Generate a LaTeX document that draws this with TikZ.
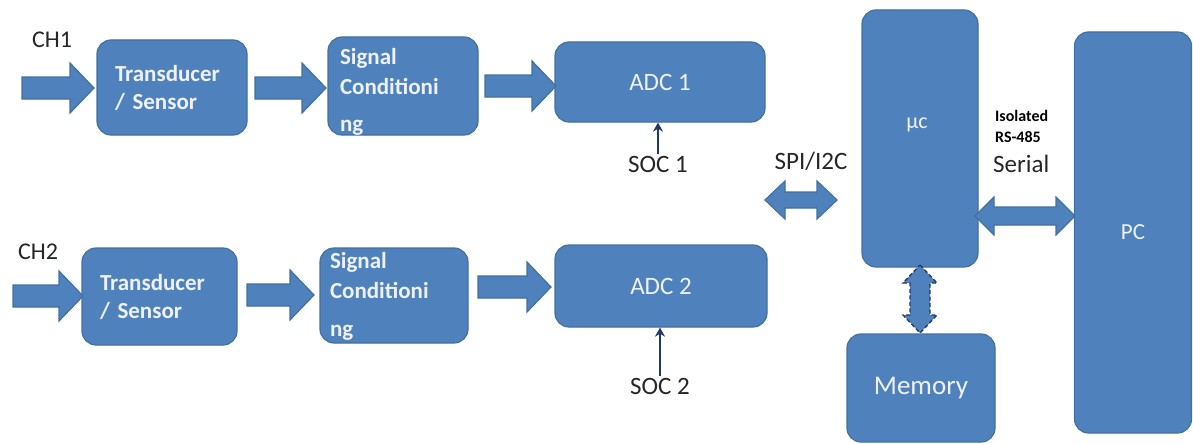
\documentclass[tikz,border=0pt]{standalone}
\usepackage{fontspec}
\setmainfont{Carlito}
\usetikzlibrary{arrows.meta}
\definecolor{boxblue}{HTML}{4F81BD}
\definecolor{boxedge}{HTML}{41719C}
\definecolor{boxtext}{HTML}{EEF2F8}
\definecolor{navy}{HTML}{1F3864}
\definecolor{labeltext}{HTML}{262626}
\tikzset{
  blk/.style={rectangle, rounded corners=14pt, fill=boxblue, draw=boxedge, line width=1.2pt, inner ysep=0pt, text=boxtext},
  boldlbl/.style={font=\fontsize{23}{28}\selectfont\bfseries, align=left},
  sigl/.style={font=\fontsize{23}{30}\selectfont\bfseries, align=left, text=boxtext, inner sep=0pt},
  plainlbl/.style={font=\fontsize{25}{30}\selectfont},
  blkarrow/.style={fill=boxblue, draw=boxedge, line width=1.2pt, line join=miter},
  lbl/.style={text=labeltext, inner sep=2pt, font=\fontsize{25}{30}\selectfont},
  socarrow/.style={draw=navy, line width=2.2pt, -{Stealth[length=9pt,width=10pt]}}
}
% right-pointing block arrow: x1, x2, y
\newcommand\blkR[3]{%
  \filldraw[blkarrow] (#1,#3-11) -- (#2-24,#3-11) -- (#2-24,#3-25) -- (#2,#3)
    -- (#2-24,#3+25) -- (#2-24,#3+11) -- (#1,#3+11) -- cycle;}
% horizontal double block arrow: x1, x2, y, body half, head half, head length
\newcommand\blkLR[6]{%
  \filldraw[blkarrow] (#1,#3) -- (#1+#6,#3-#5) -- (#1+#6,#3-#4) -- (#2-#6,#3-#4)
    -- (#2-#6,#3-#5) -- (#2,#3) -- (#2-#6,#3+#5) -- (#2-#6,#3+#4)
    -- (#1+#6,#3+#4) -- (#1+#6,#3+#5) -- cycle;}
\begin{document}
\begin{tikzpicture}[x=1pt,y=-1pt]
\useasboundingbox (0,0) rectangle (1193,444);
% row 1
\node[blk, boldlbl, inner xsep=18pt, text width=114pt, minimum height=95pt] (t1) at (172,87.5) {Transducer\\/ Sensor};
\node[blk, minimum width=150pt, minimum height=98pt,
  label={[sigl, text width=126pt, yshift=-6pt]center:{Signal\\Conditioni\\[7pt]ng}}] (s1) at (403,86) {};
\node[blk, plainlbl, minimum width=210pt, minimum height=80pt] (a1) at (660,82) {ADC 1};
% row 2
\node[blk, boldlbl, inner xsep=18pt, text width=119pt, minimum height=97pt] (t2) at (159.5,296.5) {Transducer\\/ Sensor};
\node[blk, minimum width=148pt, minimum height=95pt,
  label={[sigl, text width=128pt, yshift=-1pt]center:{Signal\\Conditioni\\[8pt]ng}}] (s2) at (394,295.5) {};
\node[blk, plainlbl, minimum width=212pt, minimum height=82pt] (a2) at (661,286) {ADC 2};
% right side
\node[blk, minimum width=116pt, minimum height=257pt] (mc) at (920,138.5) {};
\node[text=boxtext, font=\fontsize{22}{26}\selectfont] (mclbl) at (917,125) {µc};
\node[blk, font=\fontsize{27}{32}\selectfont, minimum width=148pt, minimum height=108pt] (mem) at (921,388) {Memory};
\node[blk, font=\fontsize{23}{28}\selectfont, minimum width=117pt, minimum height=401pt] (pc) at (1133,232.5) {PC};
% labels
\node[lbl, font=\fontsize{24}{28}\selectfont] (ch1) at (52,40) {CH1};
\node[lbl, font=\fontsize{24}{28}\selectfont] (ch2) at (38,252) {CH2};
\node[lbl] (soc1) at (658,164) {SOC 1};
\node[lbl] (soc2) at (660,386) {SOC 2};
\node[lbl] (spi) at (811,161) {SPI/I2C};
\node[lbl, anchor=west, inner sep=0pt, font=\fontsize{16}{20}\selectfont\bfseries, text=black] (iso) at (995,116) {Isolated};
\node[lbl, anchor=west, inner sep=0pt, font=\fontsize{16}{20}\selectfont\bfseries, text=black] (rs) at (995,137) {RS-485};
\node[lbl, anchor=west, inner sep=0pt] (ser) at (993,164) {Serial};
% block arrows
\blkR{22}{94}{88}
\blkR{255}{326}{88}
\blkR{485}{556}{86}
\blkR{13}{83}{296}
\blkR{247}{314}{295}
\blkR{478}{551}{287}
\blkLR{765}{837}{200}{8}{19}{20}
\blkLR{975}{1075}{216}{9}{19}{19}
% memory bus (dashed, vertical)
\filldraw[fill=boxblue, draw=navy, line width=1.3pt, dashed, dash pattern=on 4pt off 2.5pt]
  (920,265) -- (937,283) -- (930,283) -- (930,315) -- (937,315) -- (920,333)
  -- (903,315) -- (910,315) -- (910,283) -- (903,283) -- cycle;
% SOC arrows
\draw[socarrow] (soc1.north) -- (soc1.north |- a1.south);
\draw[socarrow] (soc2.north) -- (soc2.north |- a2.south);
\end{tikzpicture}
\end{document}
